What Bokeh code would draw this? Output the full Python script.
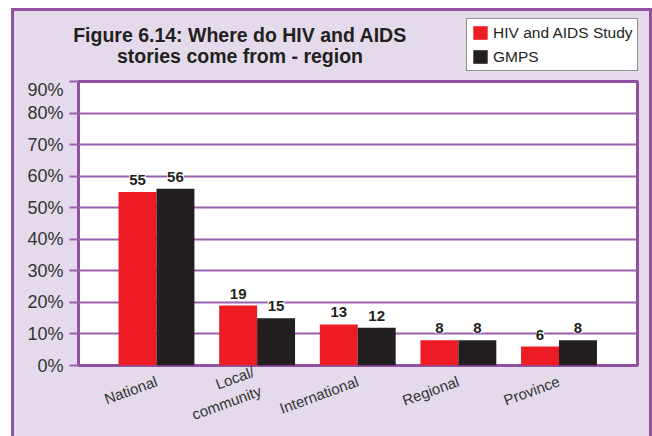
from bokeh.plotting import figure
from bokeh.models import (ColumnDataSource, FixedTicker, LabelSet, Label, Legend,
                          LegendItem, Range1d)
from bokeh.core.properties import value
from bokeh.layouts import column
from bokeh.embed import file_html
from bokeh.resources import INLINE

# ---- data ----
categories = ["National", "Local/\ncommunity", "International", "Regional", "Province"]
hiv_study = [55, 19, 13, 8, 6]
gmps = [56, 15, 12, 8, 8]
y_ticks = [0, 10, 20, 30, 40, 50, 60, 70, 80, 90]
y_tick_labels = ["0%", "10%", "20%", "30%", "40%", "50%", "60%", "70%", "80%", "90%"]
series_names = ["HIV and AIDS Study", "GMPS"]
title_lines = ["Figure 6.14: Where do HIV and AIDS", "stories come from - region"]

# ---- styles ----
RED = "#ED1C24"
BLACK = "#231F20"
PURPLE = "#9150A0"
GRID = "#9A5EAC"
LAV = "#E4DAEC"
TXT = "#333333"
FONT = "Liberation Sans"

xs = list(range(len(categories)))
bw = 0.377
src = ColumnDataSource(dict(
    x=xs,
    x_red=[x - bw / 2 for x in xs],
    x_blk=[x + bw / 2 for x in xs],
    hiv=hiv_study,
    gmps=gmps,
    hiv_t=[str(v) for v in hiv_study],
    gmps_t=[str(v) for v in gmps],
))

# ---------------- header (title + legend) ----------------
head = figure(width=635, height=68, output_backend="svg", toolbar_location=None,
              x_range=Range1d(14, 649), y_range=Range1d(79, 11),
              x_axis_type=None, y_axis_type=None, min_border=0)
head.border_fill_color = LAV
head.background_fill_color = LAV
head.outline_line_color = None
head.grid.visible = False

for i, line in enumerate(title_lines):
    head.add_layout(Label(x=239.5, y=34 + 21 * i, text=line, text_align="center",
                          text_baseline="alphabetic", text_font=FONT,
                          text_font_style="bold", text_font_size="19.5px",
                          text_color=BLACK))

# legend swatches (zero-height bars outside the visible header range)
lr1 = head.vbar(x=[0], top=[0], bottom=[0], width=1, fill_color=RED, line_color=None)
lr2 = head.vbar(x=[0], top=[0], bottom=[0], width=1, fill_color=BLACK, line_color=None)
legend = Legend(items=[LegendItem(label=series_names[0], renderers=[lr1]),
                       LegendItem(label=series_names[1], renderers=[lr2])],
                location=(452, 8), orientation="vertical",
                glyph_width=18, glyph_height=17, spacing=5, padding=4, margin=0,
                label_standoff=4, label_text_font=FONT, label_text_font_size="15.5px",
                label_text_color=BLACK, label_height=19,
                border_line_color=BLACK, border_line_width=1.5,
                background_fill_color="white", background_fill_alpha=1)
head.add_layout(legend)

# ---------------- main chart ----------------
p = figure(width=635, height=357, frame_width=559, frame_height=284,
           output_backend="svg", toolbar_location=None,
           x_range=Range1d(-0.775, 4.78), y_range=Range1d(0, 90),
           min_border_left=64, min_border_right=12, min_border_top=2,
           min_border_bottom=71)
p.border_fill_color = LAV
p.background_fill_color = "white"
p.outline_line_color = PURPLE
p.outline_line_width = 3

p.vbar(x="x_red", top="hiv", width=bw, source=src, fill_color=RED, line_color=None)
p.vbar(x="x_blk", top="gmps", width=bw, source=src, fill_color=BLACK, line_color=None)

p.xgrid.grid_line_color = None
p.ygrid.grid_line_color = GRID
p.ygrid.grid_line_width = 2
p.yaxis.ticker = FixedTicker(ticks=y_ticks)
p.yaxis.major_label_overrides = {t: l for t, l in zip(y_ticks, y_tick_labels)}
p.yaxis.axis_line_color = None
p.yaxis.major_tick_line_color = GRID
p.yaxis.major_tick_line_width = 2
p.yaxis.major_tick_out = 9
p.yaxis.major_tick_in = 0
p.yaxis.minor_tick_line_color = None
p.yaxis.major_label_standoff = 6
p.yaxis.major_label_text_font = FONT
p.yaxis.major_label_text_font_size = "18px"
p.yaxis.major_label_text_color = TXT

p.xaxis.ticker = FixedTicker(ticks=xs)
p.xaxis.major_label_overrides = {x: c for x, c in zip(xs, categories)}
p.xaxis.axis_line_color = None
p.xaxis.major_tick_line_color = None
p.xaxis.minor_tick_line_color = None
p.xaxis.major_tick_out = 0
p.xaxis.major_tick_in = 0
p.xaxis.major_label_standoff = 15
p.xaxis.major_label_orientation = 0.35
p.xaxis.major_label_text_font = FONT
p.xaxis.major_label_text_font_size = "15px"
p.xaxis.major_label_text_color = TXT

for xcol, ycol, tcol in [("x_red", "hiv", "hiv_t"), ("x_blk", "gmps", "gmps_t")]:
    p.add_layout(LabelSet(x=xcol, y=ycol, text=tcol, source=src, y_offset=7,
                          text_align="center", text_baseline="alphabetic",
                          text_font=value(FONT), text_font_style="bold",
                          text_font_size="15px", text_color=BLACK,
                          background_fill_color="white"))

root = column(column(head), p, margin=(8, 0, 0, 11), spacing=0,
              styles={"border-top": f"3px solid {PURPLE}",
                      "border-left": f"3px solid {PURPLE}",
                      "border-right": f"3px solid {PURPLE}",
                      "background-color": LAV})

open("out.html", "w").write(file_html(root, INLINE))
